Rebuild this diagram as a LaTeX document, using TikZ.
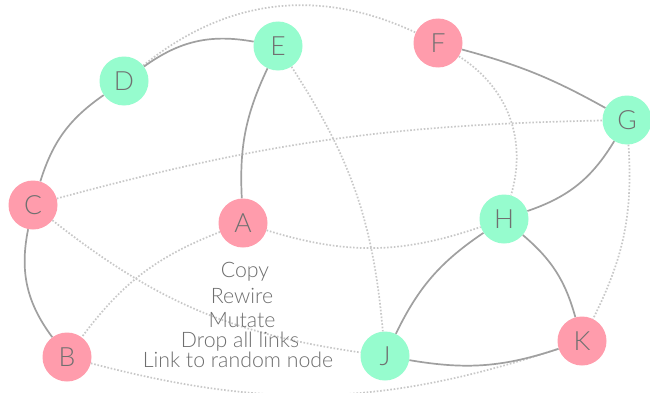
\documentclass[tikz,border=0pt]{standalone}
\usepackage{fontspec}
\setmainfont{TeX Gyre Heros}
\newfontfamily\thinsans{Lato Light}
\usetikzlibrary{backgrounds}
\definecolor{nodepink}{HTML}{FF9CAC}
\definecolor{nodegreen}{HTML}{96FCCE}
\definecolor{labelgray}{HTML}{707070}
\definecolor{linkgray}{HTML}{A0A0A0}
\definecolor{weakgray}{HTML}{C8C8C8}
\definecolor{menugray}{HTML}{6E6E6E}
\tikzset{
  vertex/.style={circle, minimum size=49pt, inner sep=0pt, text=labelgray,
    font=\thinsans\fontsize{26.5}{26.5}\selectfont},
  pinkv/.style={vertex, fill=nodepink},
  greenv/.style={vertex, fill=nodegreen},
  strong/.style={draw=linkgray, line width=1.7pt},
  weak/.style={draw=weakgray, line width=1.7pt, dash pattern=on 1.6pt off 1.8pt},
  menuitem/.style={anchor=base, inner sep=0pt, text=menugray,
    font=\thinsans\fontsize{21.3}{21.3}\selectfont}
}
\begin{document}
\begin{tikzpicture}[x=1pt, y=1pt]
\useasboundingbox (0,0) rectangle (650,392);

% graph vertices
\node[pinkv]  (A) at (243,169) {A};
\node[pinkv]  (B) at (67,35)   {B};
\node[pinkv]  (C) at (33,187)  {C};
\node[greenv] (D) at (124,311) {D};
\node[greenv] (E) at (278,346) {E};
\node[pinkv]  (F) at (438,349) {F};
\node[greenv] (G) at (627,272) {G};
\node[greenv] (H) at (504,173) {H};
\node[greenv] (J) at (385,36)  {J};
\node[pinkv]  (K) at (582,51)  {K};

\begin{pgfonlayer}{background}
  \fill[white] (0,0) rectangle (650,392);
  % weak (dotted) links
  \draw[weak] (D) to[bend left=32] (F);
  \draw[weak] (E) to[bend left=14] (J);
  \draw[weak] (F) to[bend left=37] (H);
  \draw[weak] (C) to[bend left=7]  (G);
  \draw[weak] (A) to[bend right=18] (H);
  \draw[weak] (A) to[bend right=16] (B);
  \draw[weak] (C) to[bend right=15] (J);
  \draw[weak] (B) to[bend right=16.5] (K);
  \draw[weak] (G) to[bend left=15] (K);
  % strong (solid) links
  \draw[strong] (D) to[bend left=23] (E);
  \draw[strong] (A) to[bend left=14] (E);
  \draw[strong] (C) to[bend left=19] (D);
  \draw[strong] (C) to[bend right=24] (B);
  \draw[strong] (F) to[bend left=7]  (G);
  \draw[strong] (G) to[bend left=20] (H);
  \draw[strong] (H) to[bend right=15] (J);
  \draw[strong] (H) to[bend left=17] (K);
  \draw[strong] (J) to[bend right=14] (K);
\end{pgfonlayer}

% context menu
\node[menuitem] (m1) at (245,115) {Copy};
\node[menuitem] (m2) at (242,89)  {Rewire};
\node[menuitem] (m3) at (242,65)  {Mutate};
\node[menuitem] (m4) at (240,45)  {Drop all links};
\node[menuitem] (m5) at (238,25)  {Link to random node};
\end{tikzpicture}
\end{document}
